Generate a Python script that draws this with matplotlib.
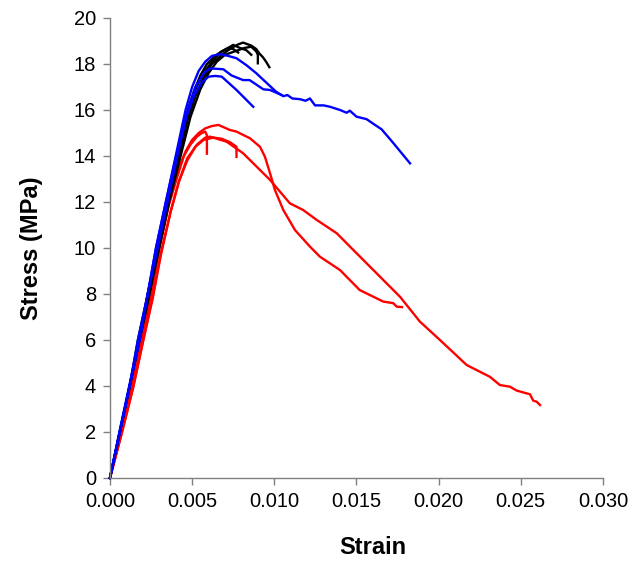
"""Stress-strain curves for three groups of specimens (black, blue, red),
redrawn in the old Excel look: only left/bottom axes, grey spines."""
import matplotlib
matplotlib.use('Agg')
import matplotlib.pyplot as plt
from matplotlib.ticker import FormatStrFormatter

# strain [-] and stress [MPa], one pair of lists per test
black_1_strain = [0.0, 0.0006, 0.0012, 0.0018, 0.0024, 0.0029, 0.0035, 0.0042, 0.0047, 0.0052, 0.0057, 0.0062, 0.0068, 0.0074, 0.0078, 0.0081, 0.0086, 0.0089, 0.0091, 0.0093, 0.0095, 0.0097]
black_1_stress = [0.0, 2.0, 4.0, 6.0, 8.0, 10.0, 12.0, 14.0, 15.5, 16.6, 17.4, 18.0, 18.4, 18.7, 18.85, 18.93, 18.8, 18.65, 18.45, 18.3, 18.1, 17.86]

black_2_strain = [0.0, 0.0006, 0.0012, 0.0018, 0.0024, 0.0030, 0.0036, 0.0043, 0.0049, 0.0055, 0.0060, 0.0065, 0.0070, 0.0076, 0.0082, 0.0086, 0.0089, 0.0090, 0.0090]
black_2_stress = [0.0, 2.0, 4.0, 6.0, 8.0, 10.0, 12.0, 14.0, 15.7, 16.9, 17.6, 18.1, 18.4, 18.55, 18.7, 18.75, 18.55, 18.4, 18.03]

black_3_strain = [0.0, 0.0006, 0.0012, 0.0018, 0.0023, 0.0029, 0.0035, 0.0041, 0.0047, 0.0052, 0.0057, 0.0062, 0.0067, 0.0072, 0.0075, 0.0079, 0.0083, 0.0086]
black_3_stress = [0.0, 2.0, 4.0, 6.0, 8.0, 10.0, 12.0, 14.0, 15.8, 16.9, 17.6, 18.1, 18.5, 18.7, 18.83, 18.7, 18.6, 18.4]

black_4_strain = [0.0, 0.0006, 0.0012, 0.0017, 0.0023, 0.0029, 0.0035, 0.0041, 0.0046, 0.0051, 0.0055, 0.0059, 0.0064, 0.0068, 0.0072, 0.0075, 0.0078]
black_4_stress = [0.0, 2.0, 4.0, 6.0, 8.0, 10.0, 12.0, 14.0, 15.7, 16.8, 17.5, 18.0, 18.35, 18.55, 18.7, 18.65, 18.5]

blue_1_strain = [0.0, 0.0006, 0.0012, 0.0017, 0.0023, 0.0028, 0.0034, 0.0040, 0.0046, 0.0050, 0.0054, 0.0058, 0.0062, 0.0067, 0.0072, 0.0077, 0.0083, 0.0089, 0.0095, 0.0101, 0.01055, 0.0108, 0.0111, 0.01156, 0.0119, 0.01217, 0.01248, 0.0130, 0.01339, 0.0140, 0.0144, 0.0146, 0.0150, 0.01562, 0.01613, 0.01653, 0.0172, 0.01826]
blue_1_stress = [0.0, 2.0, 4.0, 6.0, 8.0, 10.0, 12.0, 14.0, 16.0, 17.0, 17.7, 18.1, 18.35, 18.43, 18.35, 18.25, 17.95, 17.6, 17.2, 16.8, 16.6, 16.65, 16.5, 16.47, 16.4, 16.5, 16.2, 16.2, 16.14, 16.0, 15.88, 15.97, 15.71, 15.6, 15.35, 15.16, 14.6, 13.68]

blue_2_strain = [0.0, 0.0006, 0.0012, 0.0018, 0.0023, 0.0029, 0.0035, 0.0041, 0.0047, 0.0052, 0.0057, 0.00609, 0.0069, 0.0074, 0.0081, 0.0085, 0.00933, 0.00974, 0.01045]
blue_2_stress = [0.0, 2.0, 4.0, 6.0, 8.0, 10.0, 12.0, 14.0, 15.9, 17.0, 17.6, 17.81, 17.77, 17.5, 17.3, 17.3, 16.9, 16.87, 16.65]

blue_3_strain = [0.0, 0.0006, 0.0012, 0.0018, 0.0023, 0.0028, 0.0034, 0.0040, 0.0046, 0.0051, 0.0056, 0.0060, 0.0064, 0.0068, 0.0077, 0.00872]
blue_3_stress = [0.0, 2.1, 4.1, 6.0, 8.0, 10.0, 12.0, 13.9, 15.6, 16.6, 17.2, 17.45, 17.48, 17.45, 16.87, 16.14]

red_1_strain = [0.0, 0.0007, 0.0013, 0.0019, 0.0025, 0.0030, 0.0036, 0.0041, 0.0046, 0.0050, 0.0054, 0.0058, 0.0062, 0.0066, 0.0073, 0.0077, 0.00852, 0.00913, 0.00943, 0.00974, 0.01004, 0.01055, 0.01126, 0.01217, 0.01278, 0.0140, 0.0152, 0.01663, 0.01724, 0.01745, 0.01777]
red_1_stress = [0.0, 2.0, 4.0, 6.0, 8.0, 10.0, 12.0, 13.3, 14.2, 14.7, 15.0, 15.2, 15.3, 15.35, 15.13, 15.06, 14.77, 14.4, 13.97, 13.25, 12.52, 11.65, 10.78, 10.06, 9.62, 9.04, 8.17, 7.67, 7.6, 7.45, 7.43]

red_2_strain = [0.0, 0.0007, 0.0014, 0.0020, 0.0026, 0.0031, 0.0037, 0.0042, 0.0047, 0.0053, 0.0058, 0.00609, 0.0071, 0.0081, 0.00974, 0.01095, 0.01176, 0.01258, 0.0138, 0.01501, 0.01765, 0.01886, 0.02008, 0.02171, 0.02312, 0.02373, 0.02434, 0.02475, 0.02556, 0.02576, 0.02596, 0.02617]
red_2_stress = [0.0, 1.9, 3.9, 5.9, 7.8, 9.7, 11.6, 12.9, 13.9, 14.5, 14.8, 14.84, 14.62, 14.12, 12.96, 11.94, 11.65, 11.22, 10.64, 9.77, 7.88, 6.8, 6.0, 4.91, 4.4, 4.04, 3.97, 3.8, 3.64, 3.36, 3.32, 3.17]

red_3_strain = [0.0, 0.0007, 0.0013, 0.0019, 0.0025, 0.0030, 0.0036, 0.0041, 0.0045, 0.0049, 0.0053, 0.0056, 0.0058, 0.0059, 0.0059]
red_3_stress = [0.0, 2.0, 4.0, 6.0, 8.0, 10.0, 11.9, 13.1, 14.0, 14.5, 14.85, 15.0, 15.06, 14.9, 14.1]

red_4_strain = [0.0, 0.0007, 0.0014, 0.0020, 0.0026, 0.0031, 0.0037, 0.0042, 0.0047, 0.0052, 0.0057, 0.0063, 0.0068, 0.0073, 0.0077, 0.0077]
red_4_stress = [0.0, 1.9, 3.9, 5.9, 7.9, 9.8, 11.6, 12.9, 13.8, 14.4, 14.7, 14.8, 14.75, 14.6, 14.4, 13.96]

x_ticks = [0.000, 0.005, 0.010, 0.015, 0.020, 0.025, 0.030]
y_ticks = [0, 2, 4, 6, 8, 10, 12, 14, 16, 18, 20]


def main():
    plt.rcParams['font.family'] = ['Liberation Sans', 'DejaVu Sans']

    fig = plt.figure(figsize=(6.32, 5.62), dpi=100)
    ax = fig.add_axes([0.174, 0.1495, 0.780, 0.8185])

    # draw red first, then black, blue on top (as in the picture)
    curves = [
        (red_1_strain, red_1_stress, 'red'),
        (red_2_strain, red_2_stress, 'red'),
        (red_3_strain, red_3_stress, 'red'),
        (red_4_strain, red_4_stress, 'red'),
        (black_1_strain, black_1_stress, 'black'),
        (black_2_strain, black_2_stress, 'black'),
        (black_3_strain, black_3_stress, 'black'),
        (black_4_strain, black_4_stress, 'black'),
        (blue_1_strain, blue_1_stress, 'blue'),
        (blue_2_strain, blue_2_stress, 'blue'),
        (blue_3_strain, blue_3_stress, 'blue'),
    ]
    for strain, stress, col in curves:
        ax.plot(strain, stress, color=col, lw=1.7, solid_joinstyle='round', clip_on=False)

    ax.set_xlim(0, 0.030)
    ax.set_ylim(0, 20)
    ax.set_xticks(x_ticks)
    ax.set_yticks(y_ticks)
    ax.xaxis.set_major_formatter(FormatStrFormatter('%.3f'))

    # Excel style axes
    for side in ['top', 'right']:
        ax.spines[side].set_visible(False)
    for side in ['left', 'bottom']:
        ax.spines[side].set_color('#808080')
        ax.spines[side].set_linewidth(1.0)
    ax.tick_params(direction='out', length=5, width=1, color='#808080',
                   labelsize=14.5, pad=5)

    ax.set_xlabel('Strain', fontsize=17, fontweight='bold')
    ax.set_ylabel('Stress (MPa)', fontsize=17, fontweight='bold')
    ax.xaxis.set_label_coords(0.533, -0.127)
    ax.yaxis.set_label_coords(-0.135, 0.5)

    fig.savefig('out.png', dpi=100)


if __name__ == "__main__":
    main()
